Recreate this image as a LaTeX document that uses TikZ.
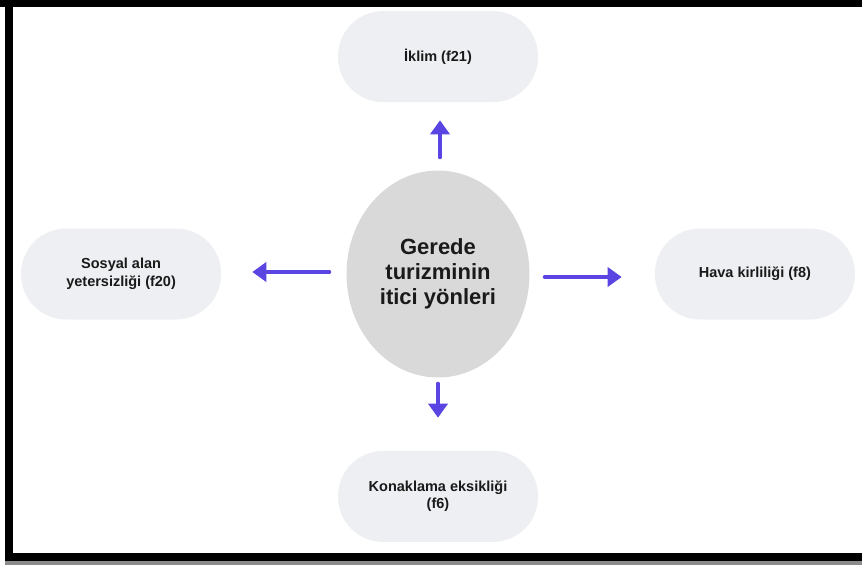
\documentclass[tikz,border=0pt]{standalone}
\usepackage{fontspec}
\setmainfont{Liberation Sans}
\usepackage{xcolor}
\usepackage{tikz}
\usetikzlibrary{
    shapes.geometric,
    positioning,
    arrows.meta
}
\definecolor{pillgray}{HTML}{EDEFF2}
\definecolor{hubgray}{HTML}{D9D9D9}
\definecolor{arrowblue}{HTML}{5A45E2}
\definecolor{textdark}{HTML}{1A1A1A}

\begin{document}
\begin{tikzpicture}[
        x=1pt, y=-1pt,
        pill/.style={fill=pillgray, rounded corners=45pt, minimum width=200pt, minimum height=91pt,
                     align=center, font=\bfseries\fontsize{14.5}{17.5}\selectfont, text=textdark},
        hub/.style={ellipse, fill=hubgray, minimum width=183pt, minimum height=207pt, inner sep=0pt,
                    align=center, font=\bfseries\fontsize{22}{25}\selectfont, text=textdark},
        link/.style={arrowblue, line width=4pt, line cap=round,
                     -{Triangle[width=19pt,length=14pt]}}
      ]
      \useasboundingbox (0,0) rectangle (862,565);

      % frame
      \fill[black!45] (5,561) rectangle (862,565);
      \fill[black] (0,0) rectangle (862,7);
      \fill[black] (5,0) rectangle (13,561);
      \fill[black] (5,553) rectangle (862,561);

      \node[hub] (hub) at (438,274) {Gerede\\turizminin\\itici yönleri};

      \node[pill, above=68pt of hub] (iklim) {İklim (f21)};
      \node[pill, left=125pt of hub] (sosyal) {Sosyal alan\\yetersizliği (f20)};
      \node[pill, right=125pt of hub] (hava) {Hava kirliliği (f8)};
      \node[pill, below=73pt of hub] (konak) {Konaklama eksikliği\\(f6)};

      \draw[link, shorten <=13pt, shorten >=18pt] ([xshift=2pt]hub.north) -- ([xshift=2pt]iklim.south);
      \draw[link, shorten <=6pt, shorten >=33pt] (hub.south) -- (konak.north);
      \draw[link, shorten <=17pt, shorten >=31pt] ([yshift=2pt]hub.west) -- ([yshift=2pt]sosyal.east);
      \draw[link, shorten <=15pt, shorten >=33pt] ([yshift=-3pt]hub.east) -- ([yshift=-3pt]hava.west);
    \end{tikzpicture}
\end{document}
